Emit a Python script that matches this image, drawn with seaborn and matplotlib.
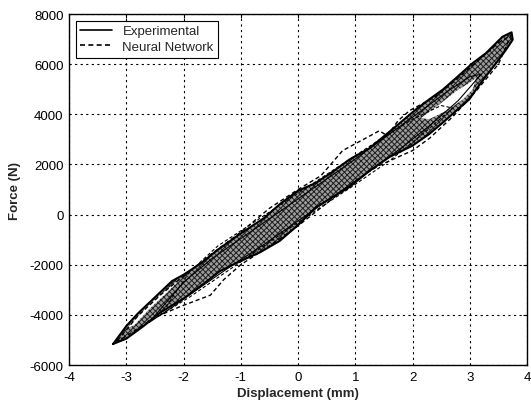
import numpy as np
import pandas as pd
import matplotlib
matplotlib.use("Agg")
import matplotlib.pyplot as plt
import seaborn as sns

# ---------------- data ----------------
# Outer experimental loop (closed path: lower branch left->right, upper branch back)
exp1_x = [-3.23, -3.0, -2.7, -2.4, -2.0, -1.7, -1.36, -1.0, -0.66, -0.32, 0.0, 0.32, 0.61, 0.9,
          1.25, 1.6, 2.0, 2.29, 2.53, 2.76, 2.99, 3.11, 3.28, 3.46, 3.63, 3.75, 3.73,
          3.57, 3.28, 3.05, 2.76, 2.53, 2.29, 2.06, 1.7, 1.25, 0.9, 0.6, 0.3, 0.0, -0.3,
          -0.6, -1.0, -1.4, -1.7, -2.0, -2.2, -2.5, -2.8, -3.0, -3.23]
exp1_y = [-5160, -4950, -4450, -3900, -3350, -2850, -2250, -1850, -1500, -1050, -420, 300, 700, 1100,
          1750, 2300, 2750, 3211, 3671, 4132, 4592, 4987, 5513, 6039, 6566, 6974, 7270,
          7092, 6434, 6039, 5447, 4987, 4592, 4197, 3500, 2650, 2200, 1700, 1250, 950, 450,
          -150, -750, -1400, -1950, -2400, -2650, -3300, -3950, -4450, -5160]

# Inner experimental loop
exp2_x = [-2.6, -2.2, -1.8, -1.2, -0.6, 0.0, 0.6, 1.2, 1.8, 2.3, 2.8, 3.2, 3.0, 2.6, 2.1, 1.5,
          0.9, 0.3, -0.3, -0.9, -1.5, -2.0, -2.6]
exp2_y = [-4300, -3700, -3050, -2100, -1200, -250, 700, 1650, 2650, 3550, 4550, 5600, 5500, 4900,
          4050, 3050, 2050, 1100, 150, -800, -1750, -2700, -4300]

# Neural network loop (dashed)
nn1_x = [-3.18, -2.9, -2.5, -2.06, -1.53, -1.3, -1.0, -0.5, 0.0, 0.5, 1.0, 1.3, 1.42, 2.0, 2.3,
         2.7, 3.1, 3.5, 3.72, 3.5, 3.2, 2.8, 2.4, 1.95, 1.75, 1.56, 1.42, 0.78, 0.4, 0.0, -0.5,
         -1.0, -1.5, -2.0, -2.4, -2.8, -3.18]
nn1_y = [-5100, -4700, -4100, -3672, -3213, -2600, -2000, -1250, -450, 450, 1350, 1800, 1961, 2553,
         3050, 3900, 4900, 6000, 7150, 6850, 6250, 5450, 4700, 4150, 3750, 3145, 3342, 2553, 1550,
         1000, 250, -700, -1550, -2450, -3200, -4050, -5100]

# Inner neural network loop (dashed)
nn2_x = [-2.4, -1.9, -1.2, -0.5, 0.2, 0.9, 1.6, 2.2, 2.7, 2.5, 2.0, 1.4, 0.7, 0.0, -0.7, -1.4,
         -1.9, -2.4]
nn2_y = [-4000, -3300, -2200, -1100, 0, 1050, 2150, 3250, 4250, 4350, 3800, 2950, 1900, 850,
         -200, -1250, -2300, -4000]

# White gaps between loop branches (inside the dense band)
gap_ur_x = [2.15, 2.47, 2.76, 2.99, 3.11, 3.05, 2.88, 2.58, 2.29]
gap_ur_y = [3850, 4395, 4921, 5250, 5447, 4987, 4592, 4132, 3803]
gap_ul_x = [-3.0, -2.7, -2.4, -2.05, -2.3, -2.6, -2.85]
gap_ul_y = [-4560, -3830, -3180, -2560, -3130, -3770, -4390]

x_ticks = [-4, -3, -2, -1, 0, 1, 2, 3, 4]
y_ticks = [-6000, -4000, -2000, 0, 2000, 4000, 6000, 8000]

# ---------------- figure ----------------
sns.set_style("white")
plt.rcParams['font.family'] = ['Liberation Sans', 'DejaVu Sans']
plt.rcParams['hatch.linewidth'] = 0.7

fig = plt.figure(figsize=(5.31, 4.06), dpi=100)
ax = fig.add_axes([0.130, 0.0985, 0.8625, 0.8645])

# dense overlapping region of the many cycles
ax.fill(exp1_x, exp1_y, facecolor='#9c9c9c', edgecolor='#1e1e1e', hatch='xxxxxx',
        linewidth=0, zorder=2)
ax.fill(gap_ur_x, gap_ur_y, facecolor='white', edgecolor='none', zorder=3)
ax.fill(gap_ul_x, gap_ul_y, facecolor='white', edgecolor='none', zorder=3)

df_e1 = pd.DataFrame({'x': exp1_x, 'y': exp1_y})
df_e2 = pd.DataFrame({'x': exp2_x, 'y': exp2_y})
df_n1 = pd.DataFrame({'x': nn1_x, 'y': nn1_y})
df_n2 = pd.DataFrame({'x': nn2_x, 'y': nn2_y})

sns.lineplot(data=df_e1, x='x', y='y', sort=False, estimator=None, color='black',
             linewidth=1.5, ax=ax, zorder=5, label='Experimental')
sns.lineplot(data=df_e2, x='x', y='y', sort=False, estimator=None, color='black',
             linewidth=0.8, ax=ax, zorder=4)
sns.lineplot(data=df_n1, x='x', y='y', sort=False, estimator=None, color='black',
             linewidth=1.0, ax=ax, zorder=5, label='Neural Network')
sns.lineplot(data=df_n2, x='x', y='y', sort=False, estimator=None, color='black',
             linewidth=0.8, ax=ax, zorder=4)
ax.lines[2].set_dashes((3, 2))
ax.lines[3].set_dashes((3, 2))

ax.set_xlim(-4, 4)
ax.set_ylim(-6000, 8000)
ax.set_xticks(x_ticks)
ax.set_yticks(y_ticks)
ax.set_xticklabels([str(t) for t in x_ticks], fontsize=9.5)
ax.set_yticklabels([str(t) for t in y_ticks], fontsize=9.5)
ax.tick_params(direction='in', length=3, width=0.8, top=True, right=True, pad=4,
               colors='black')
ax.grid(True, color='black', linestyle=(0, (2, 3)), linewidth=0.8)
ax.set_axisbelow(True)
for s in ax.spines.values():
    s.set_color('black')
    s.set_linewidth(1.0)

ax.set_xlabel('Displacement (mm)', fontsize=9.5, fontweight='bold', labelpad=3)
ax.set_ylabel('Force (N)', fontsize=9.5, fontweight='bold', labelpad=6)

leg = ax.legend(loc='upper left', fontsize=9.5, frameon=True, fancybox=False,
                edgecolor='black', framealpha=1, borderpad=0.35, handlelength=2.4,
                labelspacing=0.25, borderaxespad=0.5)
leg.get_frame().set_linewidth(0.8)
for h in leg.get_lines():
    h.set_linewidth(1.2)

fig.savefig('out.png', dpi=100)
